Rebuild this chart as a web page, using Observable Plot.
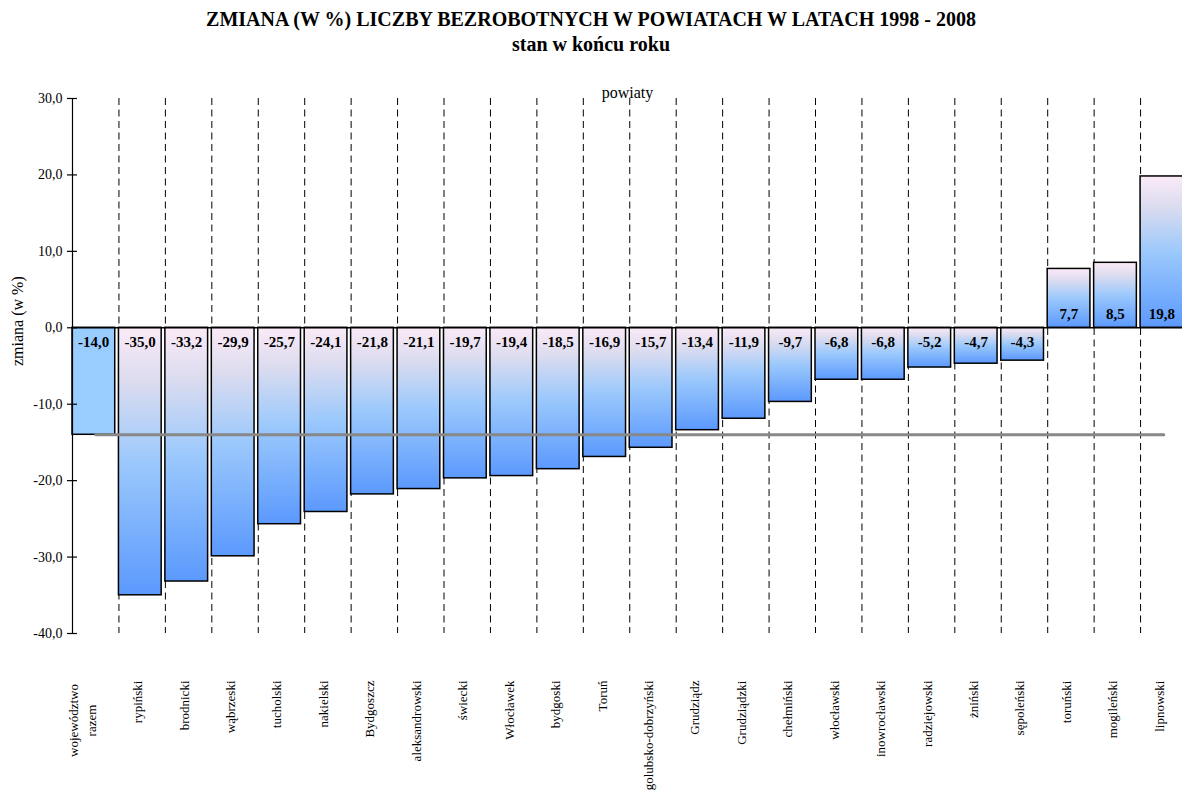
<!DOCTYPE html>
<html><head><meta charset="utf-8">
<script src="https://cdn.jsdelivr.net/npm/d3@7"></script>
<script src="https://cdn.jsdelivr.net/npm/@observablehq/plot@0.6"></script>
<style>
body{margin:0;background:#fff;overflow:hidden;font-family:"Liberation Serif","Times New Roman",serif;color:#000;}
#title{position:absolute;left:0;width:1182px;top:7px;text-align:center;font-weight:bold;font-size:20px;line-height:25px;}
#chart{position:absolute;left:0;top:60px;}
</style></head><body>
<div id="title">ZMIANA (W %) LICZBY BEZROBOTNYCH W POWIATACH W LATACH 1998 - 2008<br>stan w końcu roku</div>
<div id="chart"></div>
<script>
const categories = ["województwo\nrazem","rypiński","brodnicki","wąbrzeski","tucholski","nakielski","Bydgoszcz","aleksandrowski","świecki","Włocławek","bydgoski","Toruń","golubsko-dobrzyński","Grudziądz","Grudziądzki","chełmiński","włocławski","inowrocławski","radziejowski","żniński","sępoleński","toruński","mogileński","lipnowski"];
const values = [-14.0,-35.0,-33.2,-29.9,-25.7,-24.1,-21.8,-21.1,-19.7,-19.4,-18.5,-16.9,-15.7,-13.4,-11.9,-9.7,-6.8,-6.8,-5.2,-4.7,-4.3,7.7,8.5,19.8];
const average = -14.0;
const yTicks = [-40,-30,-20,-10,0,10,20,30];
const xLabel = "powiaty";
const yLabel = "zmiana (w %)";

const data = categories.map((c, i) => ({c, v: values[i], total: i === 0}));
const fmt = v => v.toFixed(1).replace(".", ",");
const xRange = [72, 1186.5];
const step = (xRange[1] - xRange[0]) / categories.length;

const defs = () => {
  const ns = "http://www.w3.org/2000/svg";
  const d = document.createElementNS(ns, "defs");
  const g = document.createElementNS(ns, "linearGradient");
  g.setAttribute("id", "barGrad");
  g.setAttribute("x1", "0"); g.setAttribute("y1", "0");
  g.setAttribute("x2", "0"); g.setAttribute("y2", "1");
  [["0", "#FBEAF7"], ["0.2", "#DCDCEF"], ["0.5", "#9CC9FC"], ["1", "#5B99FD"]].forEach(([o, c]) => {
    const s = document.createElementNS(ns, "stop");
    s.setAttribute("offset", o); s.setAttribute("stop-color", c);
    g.appendChild(s);
  });
  d.appendChild(g);
  return d;
};

const plot = Plot.plot({
  width: 1182, height: 733,
  marginTop: 38, marginBottom: 160, marginLeft: 72, marginRight: 0,
  style: {fontFamily: "'Liberation Serif','Times New Roman',serif", fontSize: "13px", background: "white", overflow: "visible", color: "black"},
  x: {type: "band", domain: categories, range: xRange, padding: 0, round: false, axis: null},
  y: {domain: [-40, 30], axis: null, label: null},
  marks: [
    defs,
    Plot.ruleX(categories.slice(1), {dx: -step / 2, stroke: "black", strokeWidth: 1, strokeDasharray: "7,4.5"}),
    Plot.barY(data.filter(d => d.total), {x: "c", y: "v", fill: "#99CCFF", stroke: "black", strokeWidth: 1.5, insetRight: 3.7}),
    Plot.barY(data.filter(d => !d.total), {x: "c", y: "v", fill: "url(#barGrad)", stroke: "black", strokeWidth: 1.5, insetRight: 3.7}),
    Plot.ruleY([0], {stroke: "black", strokeWidth: 1.5}),
    Plot.frame({anchor: "left", stroke: "black", strokeWidth: 1.2}),
    Plot.lineY(categories, {x: d => d, y: () => average, stroke: "#888888", strokeWidth: 3}),
    Plot.axisY({ticks: yTicks, tickSize: 10, dx: 5, tickFormat: () => "", label: null, strokeWidth: 1.2}),
    Plot.axisY({ticks: yTicks, tickSize: 0, tickPadding: 10, tickFormat: fmt, label: null, fontSize: 14}),
    Plot.text(data.filter(d => d.v < 0), {x: "c", y: 0, text: d => fmt(d.v), dy: 14, dx: -2, fontWeight: "bold", fontSize: 15}),
    Plot.text(data.filter(d => d.v >= 0), {x: "c", y: 0, text: d => fmt(d.v), dy: -14, dx: -2, fontWeight: "bold", fontSize: 15}),
    Plot.text(categories.filter(c => !c.includes("\n")), {x: d => d, frameAnchor: "bottom", dy: 47, rotate: -90, textAnchor: "end", fontSize: 13}),
    Plot.text(categories.filter(c => c.includes("\n")), {x: d => d, frameAnchor: "bottom", dy: 87, rotate: -90, textAnchor: "middle", lineHeight: 1.35, fontSize: 13}),
    Plot.text([xLabel], {frameAnchor: "top", dy: -12, fontSize: 16}),
    Plot.text([yLabel], {frameAnchor: "left", dx: -55, rotate: -90, fontSize: 16})
  ]
});
document.getElementById("chart").appendChild(plot);
</script>
</body></html>
